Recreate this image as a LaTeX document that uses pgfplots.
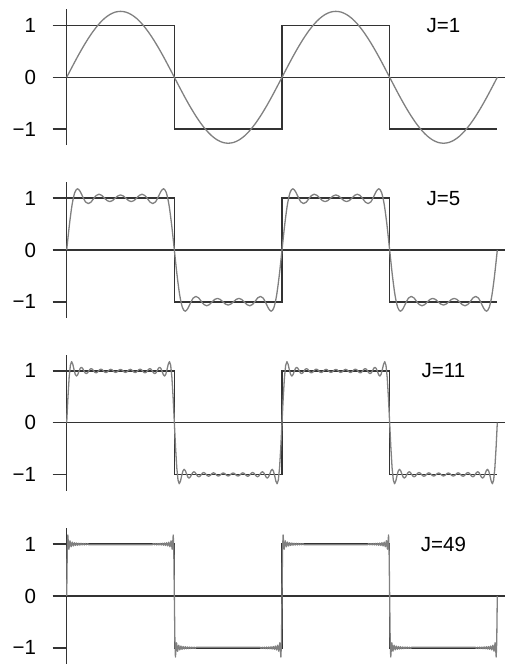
\documentclass[border=0pt]{standalone}
\usepackage{pgfplots}
\pgfplotsset{compat=1.18}
\usepackage{fontspec}
\setmainfont{Liberation Sans}
\definecolor{axisc}{gray}{0.2}
\definecolor{curvec}{gray}{0.5}
\pgfplotsset{
  fourier/.style={
    axis x line*=middle, axis y line*=left,
    ymin=-1.31, ymax=1.31, y=51.8pt,
    xmin=0,
    xtick=\empty,
    ytick={-1,0,1}, yticklabels={−1,0,1},
    tick align=outside, major tick length=14pt,
    tick style={axisc, line width=1.5pt},
    axis line style={axisc, line width=1.5pt},
    yticklabel style={font=\fontsize{20.5}{24}\selectfont, anchor=east, inner sep=0pt, xshift=-16.5pt},
    clip=false,
    hide obscured y ticks=false,
    hide obscured x ticks=false,
    anchor=origin,
  },
  sq/.style={axisc, line width=1.5pt, line join=miter},
  fc/.style={curvec, line width=1.3pt, line join=round},
}
\newcommand{\jfont}{\fontsize{20.5}{24}\selectfont}
\begin{document}
\begin{tikzpicture}
\useasboundingbox (0,0) rectangle (506pt,664pt);

% ---------------- J = 1 ----------------
\begin{axis}[fourier, at={(66.7pt,586.7pt)}, x=2.69125pt, xmax=162.9]
\addplot[sq] coordinates {(0,1)(40,1)(40,-1)(80,-1)(80,1)(120,1)(120,-1)(160,-1)};
\addplot[fc, smooth] coordinates {
(0,0)(2,0.199)(4,0.394)(6,0.578)(8,0.748)(10,0.900)(12,1.030)(14,1.135)(16,1.211)(18,1.258)(20,1.273)(22,1.258)(24,1.211)(26,1.135)(28,1.030)(30,0.900)(32,0.748)(34,0.578)(36,0.394)(38,0.199)(40,0)
(42,-0.199)(44,-0.394)(46,-0.578)(48,-0.748)(50,-0.900)(52,-1.030)(54,-1.135)(56,-1.211)(58,-1.258)(60,-1.273)(62,-1.258)(64,-1.211)(66,-1.135)(68,-1.030)(70,-0.900)(72,-0.748)(74,-0.578)(76,-0.394)(78,-0.199)(80,0)
(82,0.199)(84,0.394)(86,0.578)(88,0.748)(90,0.900)(92,1.030)(94,1.135)(96,1.211)(98,1.258)(100,1.273)(102,1.258)(104,1.211)(106,1.135)(108,1.030)(110,0.900)(112,0.748)(114,0.578)(116,0.394)(118,0.199)(120,0)
(122,-0.199)(124,-0.394)(126,-0.578)(128,-0.748)(130,-0.900)(132,-1.030)(134,-1.135)(136,-1.211)(138,-1.258)(140,-1.273)(142,-1.258)(144,-1.211)(146,-1.135)(148,-1.030)(150,-0.900)(152,-0.748)(154,-0.578)(156,-0.394)(158,-0.199)(160,0)
};
\node[font=\jfont] at (axis cs:140,1) {J=1};
\end{axis}

% ---------------- J = 5 ----------------
\begin{axis}[fourier, at={(66.7pt,414pt)}, x=2.69125pt, xmax=162.9]
\addplot[sq] coordinates {(0,1)(40,1)(40,-1)(80,-1)(80,1)(120,1)(120,-1)(160,-1)};
\addplot[fc, smooth] coordinates {
(0,0)(1,0.483)(2,0.874)(3,1.110)(4,1.182)(5,1.130)(6,1.023)(7,0.928)(8,0.896)(9,0.923)(10,0.992)(11,1.053)(12,1.077)(13,1.055)(14,1.003)(15,0.954)(16,0.934)(17,0.953)(18,0.999)(19,1.044)(20,1.063)(21,1.044)(22,0.999)(23,0.953)(24,0.934)(25,0.954)(26,1.003)(27,1.055)(28,1.077)(29,1.053)(30,0.992)(31,0.923)(32,0.896)(33,0.928)(34,1.023)(35,1.130)(36,1.182)(37,1.110)(38,0.874)(39,0.483)(40,0)
(41,-0.483)(42,-0.874)(43,-1.110)(44,-1.182)(45,-1.130)(46,-1.023)(47,-0.928)(48,-0.896)(49,-0.923)(50,-0.992)(51,-1.053)(52,-1.077)(53,-1.055)(54,-1.003)(55,-0.954)(56,-0.934)(57,-0.953)(58,-0.999)(59,-1.044)(60,-1.063)(61,-1.044)(62,-0.999)(63,-0.953)(64,-0.934)(65,-0.954)(66,-1.003)(67,-1.055)(68,-1.077)(69,-1.053)(70,-0.992)(71,-0.923)(72,-0.896)(73,-0.928)(74,-1.023)(75,-1.130)(76,-1.182)(77,-1.110)(78,-0.874)(79,-0.483)(80,0)
(81,0.483)(82,0.874)(83,1.110)(84,1.182)(85,1.130)(86,1.023)(87,0.928)(88,0.896)(89,0.923)(90,0.992)(91,1.053)(92,1.077)(93,1.055)(94,1.003)(95,0.954)(96,0.934)(97,0.953)(98,0.999)(99,1.044)(100,1.063)(101,1.044)(102,0.999)(103,0.953)(104,0.934)(105,0.954)(106,1.003)(107,1.055)(108,1.077)(109,1.053)(110,0.992)(111,0.923)(112,0.896)(113,0.928)(114,1.023)(115,1.130)(116,1.182)(117,1.110)(118,0.874)(119,0.483)(120,0)
(121,-0.483)(122,-0.874)(123,-1.110)(124,-1.182)(125,-1.130)(126,-1.023)(127,-0.928)(128,-0.896)(129,-0.923)(130,-0.992)(131,-1.053)(132,-1.077)(133,-1.055)(134,-1.003)(135,-0.954)(136,-0.934)(137,-0.953)(138,-0.999)(139,-1.044)(140,-1.063)(141,-1.044)(142,-0.999)(143,-0.953)(144,-0.934)(145,-0.954)(146,-1.003)(147,-1.055)(148,-1.077)(149,-1.053)(150,-0.992)(151,-0.923)(152,-0.896)(153,-0.928)(154,-1.023)(155,-1.130)(156,-1.182)(157,-1.110)(158,-0.874)(159,-0.483)(160,0)
};
\node[font=\jfont] at (axis cs:140,1) {J=5};
\end{axis}

% ---------------- J = 11 ----------------
\begin{axis}[fourier, at={(66.7pt,241.3pt)}, x=1.22330pt, xmax=358.3]
\addplot[sq] coordinates {(0,1)(88,1)(88,-1)(176,-1)(176,1)(264,1)(264,-1)(352,-1)};
\addplot[fc] coordinates {
(0,0)(1,0.483)(2,0.873)(3,1.108)(4,1.179)(5,1.128)(6,1.024)(7,0.933)(8,0.900)(9,0.926)(10,0.990)(11,1.048)(12,1.070)(13,1.050)(14,1.005)(15,0.963)(16,0.947)(17,0.962)(18,0.997)(19,1.031)(20,1.044)(21,1.032)(22,1.002)(23,0.973)(24,0.962)(25,0.973)(26,0.999)(27,1.024)(28,1.034)(29,1.024)(30,1.001)(31,0.978)(32,0.968)(33,0.977)(34,1.000)(35,1.021)(36,1.030)(37,1.021)(38,1.000)(39,0.979)(40,0.971)(41,0.979)(42,1.000)(43,1.020)(44,1.029)(45,1.020)(46,1.000)(47,0.979)(48,0.971)(49,0.979)(50,1.000)(51,1.021)(52,1.030)(53,1.021)(54,1.000)(55,0.977)(56,0.968)(57,0.978)(58,1.001)(59,1.024)(60,1.034)(61,1.024)(62,0.999)(63,0.973)(64,0.962)(65,0.973)(66,1.002)(67,1.032)(68,1.044)(69,1.031)(70,0.997)(71,0.962)(72,0.947)(73,0.963)(74,1.005)(75,1.050)(76,1.070)(77,1.048)(78,0.990)(79,0.926)(80,0.900)(81,0.933)(82,1.024)(83,1.128)(84,1.179)(85,1.108)(86,0.873)(87,0.483)(88,0)
(89,-0.483)(90,-0.873)(91,-1.108)(92,-1.179)(93,-1.128)(94,-1.024)(95,-0.933)(96,-0.900)(97,-0.926)(98,-0.990)(99,-1.048)(100,-1.070)(101,-1.050)(102,-1.005)(103,-0.963)(104,-0.947)(105,-0.962)(106,-0.997)(107,-1.031)(108,-1.044)(109,-1.032)(110,-1.002)(111,-0.973)(112,-0.962)(113,-0.973)(114,-0.999)(115,-1.024)(116,-1.034)(117,-1.024)(118,-1.001)(119,-0.978)(120,-0.968)(121,-0.977)(122,-1.000)(123,-1.021)(124,-1.030)(125,-1.021)(126,-1.000)(127,-0.979)(128,-0.971)(129,-0.979)(130,-1.000)(131,-1.020)(132,-1.029)(133,-1.020)(134,-1.000)(135,-0.979)(136,-0.971)(137,-0.979)(138,-1.000)(139,-1.021)(140,-1.030)(141,-1.021)(142,-1.000)(143,-0.977)(144,-0.968)(145,-0.978)(146,-1.001)(147,-1.024)(148,-1.034)(149,-1.024)(150,-0.999)(151,-0.973)(152,-0.962)(153,-0.973)(154,-1.002)(155,-1.032)(156,-1.044)(157,-1.031)(158,-0.997)(159,-0.962)(160,-0.947)(161,-0.963)(162,-1.005)(163,-1.050)(164,-1.070)(165,-1.048)(166,-0.990)(167,-0.926)(168,-0.900)(169,-0.933)(170,-1.024)(171,-1.128)(172,-1.179)(173,-1.108)(174,-0.873)(175,-0.483)(176,0)
(177,0.483)(178,0.873)(179,1.108)(180,1.179)(181,1.128)(182,1.024)(183,0.933)(184,0.900)(185,0.926)(186,0.990)(187,1.048)(188,1.070)(189,1.050)(190,1.005)(191,0.963)(192,0.947)(193,0.962)(194,0.997)(195,1.031)(196,1.044)(197,1.032)(198,1.002)(199,0.973)(200,0.962)(201,0.973)(202,0.999)(203,1.024)(204,1.034)(205,1.024)(206,1.001)(207,0.978)(208,0.968)(209,0.977)(210,1.000)(211,1.021)(212,1.030)(213,1.021)(214,1.000)(215,0.979)(216,0.971)(217,0.979)(218,1.000)(219,1.020)(220,1.029)(221,1.020)(222,1.000)(223,0.979)(224,0.971)(225,0.979)(226,1.000)(227,1.021)(228,1.030)(229,1.021)(230,1.000)(231,0.977)(232,0.968)(233,0.978)(234,1.001)(235,1.024)(236,1.034)(237,1.024)(238,0.999)(239,0.973)(240,0.962)(241,0.973)(242,1.002)(243,1.032)(244,1.044)(245,1.031)(246,0.997)(247,0.962)(248,0.947)(249,0.963)(250,1.005)(251,1.050)(252,1.070)(253,1.048)(254,0.990)(255,0.926)(256,0.900)(257,0.933)(258,1.024)(259,1.128)(260,1.179)(261,1.108)(262,0.873)(263,0.483)(264,0)
(265,-0.483)(266,-0.873)(267,-1.108)(268,-1.179)(269,-1.128)(270,-1.024)(271,-0.933)(272,-0.900)(273,-0.926)(274,-0.990)(275,-1.048)(276,-1.070)(277,-1.050)(278,-1.005)(279,-0.963)(280,-0.947)(281,-0.962)(282,-0.997)(283,-1.031)(284,-1.044)(285,-1.032)(286,-1.002)(287,-0.973)(288,-0.962)(289,-0.973)(290,-0.999)(291,-1.024)(292,-1.034)(293,-1.024)(294,-1.001)(295,-0.978)(296,-0.968)(297,-0.977)(298,-1.000)(299,-1.021)(300,-1.030)(301,-1.021)(302,-1.000)(303,-0.979)(304,-0.971)(305,-0.979)(306,-1.000)(307,-1.020)(308,-1.029)(309,-1.020)(310,-1.000)(311,-0.979)(312,-0.971)(313,-0.979)(314,-1.000)(315,-1.021)(316,-1.030)(317,-1.021)(318,-1.000)(319,-0.977)(320,-0.968)(321,-0.978)(322,-1.001)(323,-1.024)(324,-1.034)(325,-1.024)(326,-0.999)(327,-0.973)(328,-0.962)(329,-0.973)(330,-1.002)(331,-1.032)(332,-1.044)(333,-1.031)(334,-0.997)(335,-0.962)(336,-0.947)(337,-0.963)(338,-1.005)(339,-1.050)(340,-1.070)(341,-1.048)(342,-0.990)(343,-0.926)(344,-0.900)(345,-0.933)(346,-1.024)(347,-1.128)(348,-1.179)(349,-1.108)(350,-0.873)(351,-0.483)(352,0)
};
\node[font=\jfont] at (axis cs:308,1) {J=11};
\end{axis}

% ---------------- J = 49 ----------------
\begin{axis}[fourier, at={(66.7pt,68pt)}, x=0.54923pt, xmax=798.1]
\addplot[sq] coordinates {(0,1)(196,1)(196,-1)(392,-1)(392,1)(588,1)(588,-1)(784,-1)};
\addplot[fc] coordinates {
(0,0)(1,0.873)(2,1.179)(3,1.024)(4,0.903)(5,0.991)(6,1.066)(7,1.005)(8,0.950)(9,0.997)(10,1.040)(11,1.002)(12,0.966)(13,0.998)(14,1.029)(15,1.001)(16,0.975)(17,0.999)(18,1.023)(19,1.001)(20,0.980)(21,1.000)(22,1.018)(23,1.000)(24,0.983)(25,1.000)(26,1.016)(27,1.000)(28,0.986)(29,1.000)(30,1.014)(31,1.000)(32,0.987)(33,1.000)(34,1.012)(35,1.000)(36,0.989)(37,1.000)(38,1.011)(39,1.000)(40,0.990)
(156,0.990)(157,1.000)(158,1.011)(159,1.000)(160,0.989)(161,1.000)(162,1.012)(163,1.000)(164,0.987)(165,1.000)(166,1.014)(167,1.000)(168,0.986)(169,1.000)(170,1.016)(171,1.000)(172,0.983)(173,1.000)(174,1.018)(175,1.000)(176,0.980)(177,1.001)(178,1.023)(179,0.999)(180,0.975)(181,1.001)(182,1.029)(183,0.998)(184,0.966)(185,1.002)(186,1.040)(187,0.997)(188,0.950)(189,1.005)(190,1.066)(191,0.991)(192,0.903)(193,1.024)(194,1.179)(195,0.873)(196,0)
(197,-0.873)(198,-1.179)(199,-1.024)(200,-0.903)(201,-0.991)(202,-1.066)(203,-1.005)(204,-0.950)(205,-0.997)(206,-1.040)(207,-1.002)(208,-0.966)(209,-0.998)(210,-1.029)(211,-1.001)(212,-0.975)(213,-0.999)(214,-1.023)(215,-1.001)(216,-0.980)(217,-1.000)(218,-1.018)(219,-1.000)(220,-0.983)(221,-1.000)(222,-1.016)(223,-1.000)(224,-0.986)(225,-1.000)(226,-1.014)(227,-1.000)(228,-0.987)(229,-1.000)(230,-1.012)(231,-1.000)(232,-0.989)(233,-1.000)(234,-1.011)(235,-1.000)(236,-0.990)
(352,-0.990)(353,-1.000)(354,-1.011)(355,-1.000)(356,-0.989)(357,-1.000)(358,-1.012)(359,-1.000)(360,-0.987)(361,-1.000)(362,-1.014)(363,-1.000)(364,-0.986)(365,-1.000)(366,-1.016)(367,-1.000)(368,-0.983)(369,-1.000)(370,-1.018)(371,-1.000)(372,-0.980)(373,-1.001)(374,-1.023)(375,-0.999)(376,-0.975)(377,-1.001)(378,-1.029)(379,-0.998)(380,-0.966)(381,-1.002)(382,-1.040)(383,-0.997)(384,-0.950)(385,-1.005)(386,-1.066)(387,-0.991)(388,-0.903)(389,-1.024)(390,-1.179)(391,-0.873)(392,0)
(393,0.873)(394,1.179)(395,1.024)(396,0.903)(397,0.991)(398,1.066)(399,1.005)(400,0.950)(401,0.997)(402,1.040)(403,1.002)(404,0.966)(405,0.998)(406,1.029)(407,1.001)(408,0.975)(409,0.999)(410,1.023)(411,1.001)(412,0.980)(413,1.000)(414,1.018)(415,1.000)(416,0.983)(417,1.000)(418,1.016)(419,1.000)(420,0.986)(421,1.000)(422,1.014)(423,1.000)(424,0.987)(425,1.000)(426,1.012)(427,1.000)(428,0.989)(429,1.000)(430,1.011)(431,1.000)(432,0.990)
(548,0.990)(549,1.000)(550,1.011)(551,1.000)(552,0.989)(553,1.000)(554,1.012)(555,1.000)(556,0.987)(557,1.000)(558,1.014)(559,1.000)(560,0.986)(561,1.000)(562,1.016)(563,1.000)(564,0.983)(565,1.000)(566,1.018)(567,1.000)(568,0.980)(569,1.001)(570,1.023)(571,0.999)(572,0.975)(573,1.001)(574,1.029)(575,0.998)(576,0.966)(577,1.002)(578,1.040)(579,0.997)(580,0.950)(581,1.005)(582,1.066)(583,0.991)(584,0.903)(585,1.024)(586,1.179)(587,0.873)(588,0)
(589,-0.873)(590,-1.179)(591,-1.024)(592,-0.903)(593,-0.991)(594,-1.066)(595,-1.005)(596,-0.950)(597,-0.997)(598,-1.040)(599,-1.002)(600,-0.966)(601,-0.998)(602,-1.029)(603,-1.001)(604,-0.975)(605,-0.999)(606,-1.023)(607,-1.001)(608,-0.980)(609,-1.000)(610,-1.018)(611,-1.000)(612,-0.983)(613,-1.000)(614,-1.016)(615,-1.000)(616,-0.986)(617,-1.000)(618,-1.014)(619,-1.000)(620,-0.987)(621,-1.000)(622,-1.012)(623,-1.000)(624,-0.989)(625,-1.000)(626,-1.011)(627,-1.000)(628,-0.990)
(744,-0.990)(745,-1.000)(746,-1.011)(747,-1.000)(748,-0.989)(749,-1.000)(750,-1.012)(751,-1.000)(752,-0.987)(753,-1.000)(754,-1.014)(755,-1.000)(756,-0.986)(757,-1.000)(758,-1.016)(759,-1.000)(760,-0.983)(761,-1.000)(762,-1.018)(763,-1.000)(764,-0.980)(765,-1.001)(766,-1.023)(767,-0.999)(768,-0.975)(769,-1.001)(770,-1.029)(771,-0.998)(772,-0.966)(773,-1.002)(774,-1.040)(775,-0.997)(776,-0.950)(777,-1.005)(778,-1.066)(779,-0.991)(780,-0.903)(781,-1.024)(782,-1.179)(783,-0.873)(784,0)
};
\node[font=\jfont] at (axis cs:686,1) {J=49};
\end{axis}
\end{tikzpicture}
\end{document}
